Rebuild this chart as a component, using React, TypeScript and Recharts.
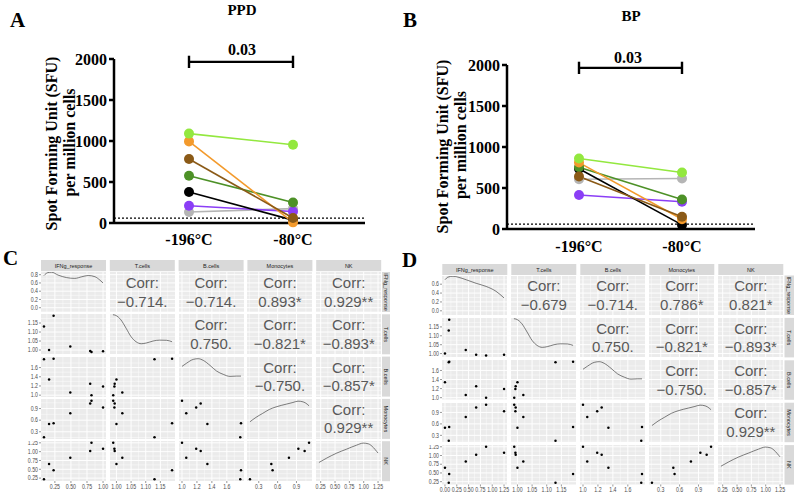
import React from 'react';
import { LineChart, Line, ScatterChart, Scatter, XAxis, YAxis, CartesianGrid, ReferenceLine } from 'recharts';

// ---------------- Panels A & B (ELISpot) ----------------
const conditions = ['-196°C', '-80°C'];
const donorColors = ['#B5B5B5', '#8B3EF6', '#000000', '#4D9127', '#F39A2C', '#8B5A17', '#93E83F'];
const ppdAtMinus196 = [134, 211, 378, 577, 995, 780, 1090];
const ppdAtMinus80 = [175, 140, 35, 251, 8, 61, 955];
const bpAtMinus196 = [606, 415, 735, 752, 810, 640, 860];
const bpAtMinus80 = [615, 333, 50, 360, 118, 150, 690];
const topYTicks = [0, 500, 1000, 1500, 2000];
const detectionLimit = 60;
const pValueText = '0.03';
const bracketLevel = 1965;

// ---------------- Panels C & D (pairs plots) ----------------
const varNames = ['IFNg_response', 'T.cells', 'B.cells', 'Monocytes', 'NK'];
const ifngPanelC = [0.08, 0.16, 0.23, 0.49, 0.8, 0.82, 1.0];
const ifngPanelD = [0.08, 0.0, 0.09, 0.44, 0.66, 0.87, 1.25];
const tCells = [1.13, 1.0, 1.19, 1.02, 0.994, 0.989, 0.993];
const bCells = [1.78, 1.34, 1.79, 1.057, 1.25, 1.0, 1.19];
const monocytes = [0.16, 0.5, 0.52, 0.78, 1.03, 1.1, 0.93];
const nkCells = [0.22, 0.65, 0.47, 0.83, 1.02, 1.25, 1.08];

// density curves (x in variable units, y in the row's axis units)
const densIfngCX = [0.08, 0.14, 0.2, 0.3, 0.43, 0.56, 0.67, 0.77, 0.875, 0.95, 1.0];
const densIfngCY = [0.78, 0.85, 0.86, 0.79, 0.73, 0.71, 0.75, 0.78, 0.75, 0.67, 0.6];
const densIfngDX = [0.0, 0.065, 0.17, 0.275, 0.45, 0.66, 0.87, 1.08, 1.25];
const densIfngDY = [0.7, 0.76, 0.78, 0.76, 0.7, 0.62, 0.55, 0.44, 0.29];
const densTX = [0.988, 0.998, 1.015, 1.033, 1.05, 1.067, 1.085, 1.102, 1.125, 1.148, 1.171, 1.19];
const densTY = [1.196, 1.192, 1.168, 1.121, 1.074, 1.046, 1.035, 1.039, 1.05, 1.055, 1.054, 1.046];
const densBX = [1.0, 1.063, 1.151, 1.218, 1.285, 1.375, 1.464, 1.553, 1.643, 1.732, 1.79];
const densBY = [1.626, 1.697, 1.778, 1.793, 1.756, 1.647, 1.523, 1.452, 1.408, 1.415, 1.415];
const densMonoX = [0.16, 0.255, 0.361, 0.469, 0.577, 0.738, 0.844, 0.925, 1.005, 1.07, 1.1];
const densMonoY = [0.558, 0.671, 0.774, 0.877, 0.944, 1.014, 1.057, 1.091, 1.073, 1.014, 0.97];
const densNkX = [0.22, 0.355, 0.53, 0.704, 0.878, 0.993, 1.08, 1.168, 1.227, 1.25];
const densNkY = [0.693, 0.817, 0.959, 1.072, 1.185, 1.242, 1.222, 1.117, 1.004, 0.96];

const corrTopC = ['', '\u22120.714.', '\u22120.714.', '0.893*', '0.929**'];
const corrTopD = ['', '\u22120.679', '\u22120.714.', '0.786*', '0.821*'];
const corrRow2 = ['', '', '0.750.', '\u22120.821*', '\u22120.893*'];
const corrRow3 = ['', '', '', '\u22120.750.', '\u22120.857*'];
const corrRow4 = ['', '', '', '', '0.929**'];

type Ax = { dom: [number, number]; ticks: number[]; dec: number };
const axIfngC: Ax = { dom: [0.034, 1.046], ticks: [0.25, 0.5, 0.75, 1.0], dec: 2 };
const axIfngD: Ax = { dom: [-0.0625, 1.3125], ticks: [0, 0.25, 0.5, 0.75, 1.0, 1.25], dec: 2 };
const axDensC: Ax = { dom: [-0.104, 0.865], ticks: [0, 0.2, 0.4, 0.6, 0.8], dec: 1 };
const axDensD: Ax = { dom: [-0.106, 0.785], ticks: [0, 0.2, 0.4, 0.6], dec: 1 };
const axT: Ax = { dom: [0.978, 1.2], ticks: [1.0, 1.05, 1.1, 1.15], dec: 2 };
const axB: Ax = { dom: [0.96, 1.83], ticks: [1.0, 1.2, 1.4, 1.6], dec: 1 };
const axMono: Ax = { dom: [0.113, 1.147], ticks: [0.3, 0.6, 0.9], dec: 1 };
const axNk: Ax = { dom: [0.1685, 1.3015], ticks: [0.25, 0.5, 0.75, 1.0, 1.25], dec: 2 };

const serif = '"Liberation Serif", "Times New Roman", serif';
const sans = '"Liberation Sans", Arial, Helvetica, sans-serif';

const zip = (xs: number[], ys: number[]) => xs.map((x, i) => ({ x, y: ys[i] }));

function buildRows(a: number[], b: number[]) {
  return conditions.map((cond, ci) => {
    const row: Record<string, any> = { cond };
    donorColors.forEach((_, d) => {
      row['d' + d] = (ci === 0 ? a : b)[d];
    });
    return row;
  });
}
const ppdRows = buildRows(ppdAtMinus196, ppdAtMinus80);
const bpRows = buildRows(bpAtMinus196, bpAtMinus80);

function TopPanel(p: {
  rows: any[]; left: number; w: number; h: number; top: number; right: number;
  yW: number; xH: number; padL: number; padR: number; tickSize: number;
}) {
  const tickFont = { fontSize: 16, fontWeight: 'bold', fontFamily: serif, fill: '#000' };
  return (
    <div style={{ position: 'absolute', left: p.left, top: 0 }}>
      <LineChart width={p.w} height={p.h} data={p.rows} margin={{ top: p.top, right: p.right, bottom: 0, left: 0 }}>
        <XAxis dataKey="cond" type="category" padding={{ left: p.padL, right: p.padR }} height={p.xH}
          axisLine={{ stroke: '#000', strokeWidth: 2.5 }} tickLine={false} tickSize={p.tickSize} tickMargin={1}
          tick={tickFont} interval={0} />
        <YAxis type="number" domain={[0, 2000]} ticks={topYTicks} width={p.yW} interval={0}
          axisLine={{ stroke: '#000', strokeWidth: 2.5 }} tickLine={{ stroke: '#000', strokeWidth: 2.5 }}
          tickSize={5} tickMargin={2} tick={tickFont} />
        <ReferenceLine y={detectionLimit} stroke="#000" strokeWidth={1.3} strokeDasharray="2 2" />
        {donorColors.map((c, i) => (
          <Line key={i} dataKey={'d' + i} stroke={c} strokeWidth={1.6} isAnimationActive={false}
            dot={{ r: 5, fill: c, stroke: c, strokeWidth: 0 }} activeDot={false} />
        ))}
        <ReferenceLine ifOverflow="visible" stroke="#000" strokeWidth={2.4}
          segment={[{ x: conditions[0], y: bracketLevel }, { x: conditions[1], y: bracketLevel }]} />
        <ReferenceLine ifOverflow="visible" stroke="#000" strokeWidth={2.4}
          segment={[{ x: conditions[0], y: bracketLevel + 75 }, { x: conditions[0], y: bracketLevel - 75 }]} />
        <ReferenceLine ifOverflow="visible" stroke="#000" strokeWidth={2.4}
          segment={[{ x: conditions[1], y: bracketLevel + 75 }, { x: conditions[1], y: bracketLevel - 75 }]} />
      </LineChart>
    </div>
  );
}

function minorOf(a: Ax) {
  const s = a.ticks[1] - a.ticks[0];
  const out: number[] = [];
  for (let v = a.ticks[0] - s / 2; v <= a.dom[1]; v += s) if (v >= a.dom[0]) out.push(v);
  return out;
}

function SmallTick(props: any) {
  const { x, y, payload, textAnchor, dec, axis } = props;
  const dy = axis === 'x' ? 4.6 : 2.2;
  return (
    <text transform={`translate(${x},${y}) scale(0.82,1)`} x={0} y={dy} textAnchor={textAnchor}
      fontSize={6.4} fill="#4D4D4D" fontFamily={sans}>
      {Number(payload.value).toFixed(dec)}
    </text>
  );
}

function PairCell(p: {
  left: number; top: number; cw: number; ch: number; xa: Ax; ya: Ax; kind: string;
  data: { x: number; y: number }[]; showX: boolean; showY: boolean;
}) {
  const { left, top, cw, ch, xa, ya, kind, data, showX, showY } = p;
  const yw = showY ? 24 : 0;
  const xh = showX ? 12 : 0;
  const mL = showX && !showY ? 6 : 0;
  const mR = showX ? 8 : 0;
  const width = cw + yw + mL + mR;
  const height = ch + xh;
  const margin = { top: 0, right: mR, bottom: 0, left: mL };
  const pieces = [
    <CartesianGrid key="gmin" fill="#EBEBEB" stroke="#FFFFFF" strokeWidth={0.45}
      horizontalValues={minorOf(ya)} verticalValues={minorOf(xa)} />,
    <CartesianGrid key="gmaj" stroke="#FFFFFF" strokeWidth={0.95}
      horizontalValues={ya.ticks} verticalValues={xa.ticks} />,
    <XAxis key="xa" type="number" dataKey="x" domain={xa.dom} ticks={xa.ticks} allowDataOverflow
      hide={!showX} height={xh} axisLine={false} tickLine={{ stroke: '#333', strokeWidth: 0.5 }}
      tickSize={2} tickMargin={1} interval={0}
      tick={(tp: any) => <SmallTick {...tp} dec={xa.dec} axis="x" />} />,
    <YAxis key="ya" type="number" dataKey="y" domain={ya.dom} ticks={ya.ticks} allowDataOverflow
      hide={!showY} width={yw} axisLine={false} tickLine={{ stroke: '#333', strokeWidth: 0.5 }}
      tickSize={2} tickMargin={1} interval={0}
      tick={(tp: any) => <SmallTick {...tp} dec={ya.dec} axis="y" />} />,
  ];
  const style: React.CSSProperties = { position: 'absolute', left: left - yw - mL, top };
  if (kind === 'scatter') {
    return (
      <div style={style}>
        <ScatterChart width={width} height={height} margin={margin}>
          {pieces}
          <Scatter data={data} isAnimationActive={false}
            shape={(s: any) => <circle cx={s.cx} cy={s.cy} r={1.25} fill="#000" />} />
        </ScatterChart>
      </div>
    );
  }
  return (
    <div style={style}>
      <LineChart width={width} height={height} margin={margin} data={data}>
        {pieces}
        {kind === 'diag' ? (
          <Line dataKey="y" type="monotone" dot={false} activeDot={false} stroke="#3A3A3A"
            strokeWidth={0.65} isAnimationActive={false} />
        ) : null}
      </LineChart>
    </div>
  );
}

type Layout = {
  colX: number[]; rowY: number[]; cw: number; ch: number;
  stripTop: number; stripH: number; sideX: number; sideW: number;
};
const layoutC: Layout = {
  colX: [41, 109.8, 178.6, 247.4, 316.2], rowY: [272, 314.3, 356.6, 398.9, 441.2], cw: 65, ch: 40,
  stripTop: 260, stripH: 11.2, sideX: 382, sideW: 8,
};
const layoutD: Layout = {
  colX: [442.3, 511.3, 580.3, 649.3, 718.3], rowY: [275.5, 317.9, 360.3, 402.7, 445.1], cw: 65, ch: 39.5,
  stripTop: 264, stripH: 11, sideX: 784.5, sideW: 9.5,
};

function PairsGrid(p: { L: Layout; ifng: number[]; ifngAx: Ax; densAx: Ax; densIfng: { x: number; y: number }[] }) {
  const { L } = p;
  const vals = [p.ifng, tCells, bCells, monocytes, nkCells];
  const colAx = [p.ifngAx, axT, axB, axMono, axNk];
  const rowAx = [p.densAx, axT, axB, axMono, axNk];
  const curves = [p.densIfng, zip(densTX, densTY), zip(densBX, densBY), zip(densMonoX, densMonoY), zip(densNkX, densNkY)];
  const cells: React.ReactNode[] = [];
  for (let r = 0; r < 5; r++) {
    for (let c = 0; c < 5; c++) {
      const kind = r === c ? 'diag' : r > c ? 'scatter' : 'corr';
      const data = kind === 'diag' ? curves[c] : kind === 'scatter' ? zip(vals[c], vals[r]) : [];
      cells.push(
        <PairCell key={r + '-' + c} left={L.colX[c]} top={L.rowY[r]} cw={L.cw} ch={L.ch}
          xa={colAx[c]} ya={rowAx[r]} kind={kind} data={data} showX={r === 4} showY={c === 0} />
      );
    }
  }
  return <>{cells}</>;
}

function PairsText(p: { L: Layout; corrTop: string[] }) {
  const { L } = p;
  const corr = [p.corrTop, corrRow2, corrRow3, corrRow4];
  const out: React.ReactNode[] = [];
  varNames.forEach((name, i) => {
    out.push(<rect key={'sh' + i} x={L.colX[i]} y={L.stripTop} width={L.cw} height={L.stripH} fill="#D9D9D9" />);
    out.push(
      <text key={'st' + i} x={L.colX[i] + L.cw / 2} y={L.stripTop + L.stripH / 2 + 2} textAnchor="middle"
        fontSize={5.5} fill="#1A1A1A" fontFamily={sans}>{name}</text>
    );
    out.push(<rect key={'sv' + i} x={L.sideX} y={L.rowY[i]} width={L.sideW} height={L.ch} fill="#D9D9D9" />);
    const cx = L.sideX + L.sideW / 2;
    const cy = L.rowY[i] + L.ch / 2;
    out.push(
      <text key={'svt' + i} x={cx} y={cy + 2} textAnchor="middle" fontSize={5.5} fill="#1A1A1A"
        fontFamily={sans} transform={`rotate(90 ${cx} ${cy})`}>{name}</text>
    );
  });
  corr.forEach((row, r) => {
    row.forEach((v, c) => {
      if (!v) return;
      const cx = L.colX[c] + L.cw / 2;
      const cy = L.rowY[r] + L.ch / 2;
      out.push(
        <text key={'c1' + r + c} x={cx} y={cy - 4} textAnchor="middle" fontSize={15} fill="#595959" fontFamily={sans}>Corr:</text>
      );
      out.push(
        <text key={'c2' + r + c} x={cx} y={cy + 14.5} textAnchor="middle" fontSize={15} fill="#595959" fontFamily={sans}>{v}</text>
      );
    });
  });
  return <>{out}</>;
}

export default function App() {
  const bold = { fontFamily: serif, fontWeight: 'bold' as const, fill: '#000' };
  return (
    <div style={{ position: 'absolute', left: 0, top: 0, width: 798, height: 496, background: '#fff', overflow: 'hidden' }}>
      <TopPanel rows={ppdRows} left={0} w={400} h={252} top={59} right={35} yW={114} xH={29}
        padL={75} padR={72} tickSize={10} />
      <TopPanel rows={bpRows} left={400} w={398} h={262} top={65} right={43} yW={107} xH={33}
        padL={72} padR={73} tickSize={11} />

      <PairsGrid L={layoutC} ifng={ifngPanelC} ifngAx={axIfngC} densAx={axDensC} densIfng={zip(densIfngCX, densIfngCY)} />
      <PairsGrid L={layoutD} ifng={ifngPanelD} ifngAx={axIfngD} densAx={axDensD} densIfng={zip(densIfngDX, densIfngDY)} />

      <svg width={798} height={496} style={{ position: 'absolute', left: 0, top: 0, pointerEvents: 'none' }}>
        <text x={10} y={27} fontSize={21} {...bold}>A</text>
        <text x={403} y={27} fontSize={21} {...bold}>B</text>
        <text x={3} y={265} fontSize={21} {...bold}>C</text>
        <text x={402} y={267} fontSize={21} {...bold}>D</text>
        <text x={242} y={15} fontSize={15} textAnchor="middle" {...bold}>PPD</text>
        <text x={631} y={21} fontSize={15} textAnchor="middle" {...bold}>BP</text>
        <text x={242} y={55} fontSize={16} textAnchor="middle" {...bold}>{pValueText}</text>
        <text x={628} y={63} fontSize={16} textAnchor="middle" {...bold}>{pValueText}</text>
        <text x={57} y={143.5} fontSize={16} textAnchor="middle" transform="rotate(-90 57 143.5)" {...bold}>Spot Forming Unit (SFU)</text>
        <text x={75} y={142.5} fontSize={16} textAnchor="middle" transform="rotate(-90 75 142.5)" {...bold}>per  million cells</text>
        <text x={448} y={146.5} fontSize={16} textAnchor="middle" transform="rotate(-90 448 146.5)" {...bold}>Spot Forming Unit (SFU)</text>
        <text x={466} y={145} fontSize={16} textAnchor="middle" transform="rotate(-90 466 145)" {...bold}>per  million cells</text>
        <PairsText L={layoutC} corrTop={corrTopC} />
        <PairsText L={layoutD} corrTop={corrTopD} />
      </svg>
    </div>
  );
}
